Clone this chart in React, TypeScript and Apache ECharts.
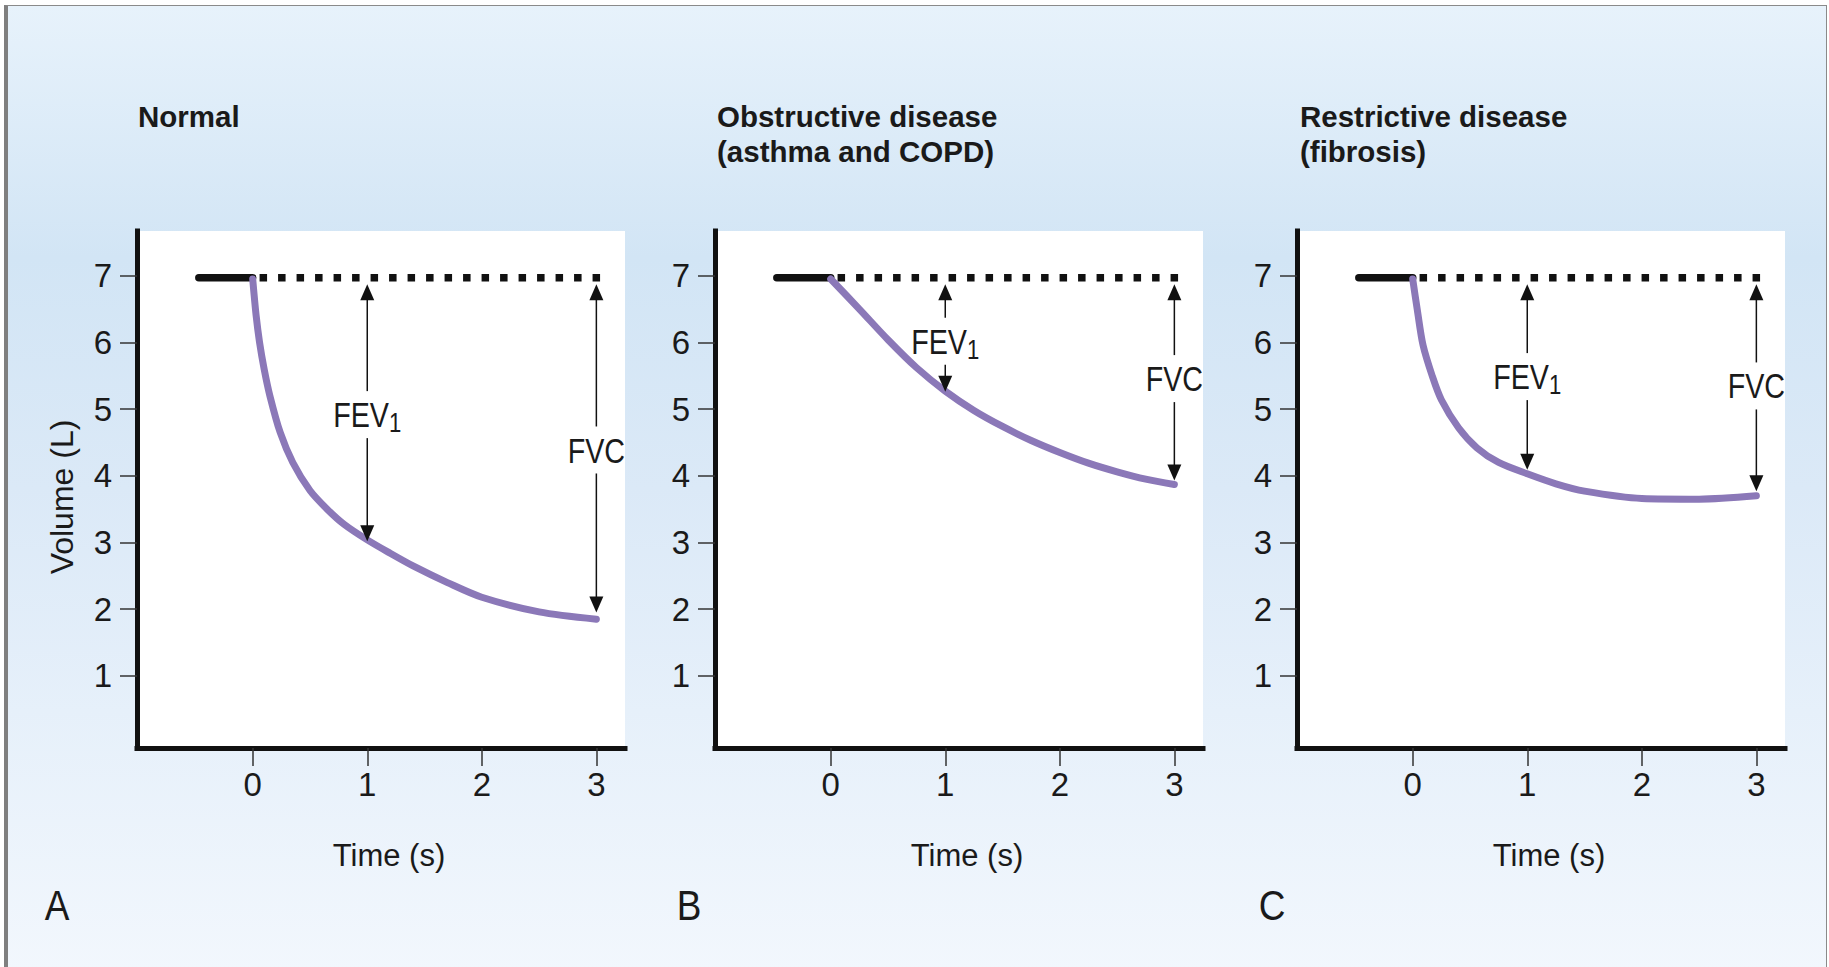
import React, { useEffect, useRef } from 'react';
import * as echarts from 'echarts';

const W = 1829;
const H = 967;

// ---- Text ----
const panelLetters = ['A', 'B', 'C'];
const panelTitles = ['Normal', 'Obstructive disease\n(asthma and COPD)', 'Restrictive disease\n(fibrosis)'];
const xAxisName = 'Time (s)';
const yAxisName = 'Volume (L)';

// ---- Ticks ----
const xTicks = [0, 1, 2, 3];
const yTicks = [1, 2, 3, 4, 5, 6, 7];

// ---- Baseline (before expiration) ----
const startVolume = 6.97;
const holdStartTime = -0.47;
const dottedStartTime = 0.06;
const dottedEndTime = 3.05;

// ---- Curves ----
const normalTime = [0, 0.03, 0.06, 0.1, 0.15, 0.24, 0.35, 0.5, 0.65, 0.8, 1, 1.2, 1.4, 1.7, 2, 2.5, 3];
const normalVolume = [6.95, 6.4, 6.0, 5.6, 5.2, 4.65, 4.2, 3.78, 3.5, 3.27, 3.04, 2.84, 2.65, 2.4, 2.18, 1.96, 1.85];

const obstructiveTime = [0, 0.25, 0.5, 0.75, 1, 1.25, 1.5, 1.75, 2, 2.25, 2.5, 2.75, 3];
const obstructiveVolume = [6.95, 6.5, 6.04, 5.62, 5.27, 4.98, 4.74, 4.53, 4.35, 4.19, 4.06, 3.95, 3.87];

const restrictiveTime = [0, 0.04, 0.09, 0.17, 0.25, 0.4, 0.56, 0.75, 1, 1.25, 1.5, 2, 2.5, 3];
const restrictiveVolume = [6.95, 6.49, 5.96, 5.5, 5.14, 4.72, 4.42, 4.2, 4.03, 3.88, 3.77, 3.66, 3.65, 3.7];

// ---- Arrows (FEV1, FVC) ----
const arrowTimes = [1, 3];
const arrowLabels = ['FEV', 'FVC'];
const arrowSubscripts = ['1', ''];
const arrowTopVolume = 6.87;
const normalArrowEnd = [3.02, 1.95];
const normalArrowLabel = [4.91, 4.38];
const obstructiveArrowEnd = [5.26, 3.93];
const obstructiveArrowLabel = [6.01, 5.45];
const restrictiveArrowEnd = [4.09, 3.77];
const restrictiveArrowLabel = [5.48, 5.34];

const curveTimes = [normalTime, obstructiveTime, restrictiveTime];
const curveVolumes = [normalVolume, obstructiveVolume, restrictiveVolume];
const arrowEnds = [normalArrowEnd, obstructiveArrowEnd, restrictiveArrowEnd];
const arrowLabelVolumes = [normalArrowLabel, obstructiveArrowLabel, restrictiveArrowLabel];

// ---- Layout ----
const gridLefts = [137, 715, 1297];
const gridWidth = 488;
const gridTop = 231;
const gridHeight = 517;
const letterX = [57, 689, 1272];
const titleX = [138, 717, 1300];

const NARROW = '"Liberation Sans Narrow", "Arial Narrow", "Liberation Sans", sans-serif';
const REGULAR = '"Liberation Sans", Arial, sans-serif';
const INK = '#1a1a1a';
const PURPLE = '#8b78b8';

function buildOption() {
  const grid: any[] = [];
  const xAxis: any[] = [];
  const yAxis: any[] = [];
  const series: any[] = [];
  const title: any[] = [];
  const graphic: any[] = [];

  for (let p = 0; p < 3; p++) {
    grid.push({
      left: gridLefts[p],
      top: gridTop,
      width: gridWidth,
      height: gridHeight,
      show: true,
      backgroundColor: '#ffffff',
      borderWidth: 0,
    });
    xAxis.push({
      type: 'value',
      gridIndex: p,
      min: -1.01,
      max: 3.25,
      splitLine: { show: false },
      axisLine: { show: true, onZero: false, lineStyle: { color: '#111', width: 5, cap: 'square' } },
      axisTick: { show: true, length: 18, lineStyle: { color: '#333', width: 1.5 }, customValues: xTicks },
      axisLabel: { customValues: xTicks, margin: 20, fontSize: 33, color: INK, fontFamily: NARROW },
      name: xAxisName,
      nameLocation: 'middle',
      nameGap: 92,
      nameTextStyle: { fontSize: 31, color: INK, fontFamily: NARROW, padding: [0, 0, 0, 16] },
    });
    yAxis.push({
      type: 'value',
      gridIndex: p,
      min: -0.08,
      max: 7.67,
      splitLine: { show: false },
      axisLine: { show: true, onZero: false, lineStyle: { color: '#111', width: 5, cap: 'square' } },
      axisTick: { show: true, length: 17, lineStyle: { color: '#333', width: 1.5 }, customValues: yTicks },
      axisLabel: { customValues: yTicks, margin: 25, fontSize: 33, color: INK, fontFamily: NARROW },
      name: p === 0 ? yAxisName : '',
      nameLocation: 'middle',
      nameRotate: 90,
      nameGap: 59,
      nameTextStyle: { fontSize: 32, color: INK, fontFamily: REGULAR, padding: [0, 15, 0, 0] },
    });

    // solid hold line
    series.push({
      type: 'line',
      xAxisIndex: p,
      yAxisIndex: p,
      symbol: 'none',
      silent: true,
      data: [[holdStartTime, startVolume], [0, startVolume]],
      lineStyle: { color: '#111', width: 7.5, cap: 'round' },
      z: 3,
    });
    // dotted reference line
    series.push({
      type: 'line',
      xAxisIndex: p,
      yAxisIndex: p,
      symbol: 'none',
      silent: true,
      data: [[dottedStartTime, startVolume], [dottedEndTime, startVolume]],
      lineStyle: { color: '#111', width: 7.5, type: [7.5, 11], cap: 'butt' },
      z: 3,
    });
    // expiration curve
    series.push({
      type: 'line',
      xAxisIndex: p,
      yAxisIndex: p,
      symbol: 'none',
      smooth: 0.3,
      silent: true,
      data: curveTimes[p].map((t, i) => [t, curveVolumes[p][i]]),
      lineStyle: { color: PURPLE, width: 7, cap: 'round', join: 'round' },
      z: 4,
    });
    // arrows
    series.push({
      type: 'custom',
      xAxisIndex: p,
      yAxisIndex: p,
      silent: true,
      z: 5,
      data: arrowTimes.map((t, k) => [t, arrowTopVolume, arrowEnds[p][k], arrowLabelVolumes[p][k], k]),
      renderItem: (params: any, api: any) => {
        const t = api.value(0);
        const k = api.value(4);
        const pTop = api.coord([t, api.value(1)]);
        const pBot = api.coord([t, api.value(2)]);
        const pLab = api.coord([t, api.value(3)]);
        const cx = pTop[0];
        const headL = 16;
        const headW = 7;
        const gapTop = 24;
        const gapBot = 23;
        const sub = arrowSubscripts[k];
        const text = sub ? `{m|${arrowLabels[k]}}{s|${sub}}` : `{m|${arrowLabels[k]}}`;
        return {
          type: 'group',
          children: [
            {
              type: 'polygon',
              shape: { points: [[cx, pTop[1]], [cx - headW, pTop[1] + headL], [cx + headW, pTop[1] + headL]] },
              style: { fill: '#111' },
            },
            {
              type: 'polygon',
              shape: { points: [[cx, pBot[1]], [cx - headW, pBot[1] - headL], [cx + headW, pBot[1] - headL]] },
              style: { fill: '#111' },
            },
            {
              type: 'line',
              shape: { x1: cx, y1: pTop[1] + headL - 1, x2: cx, y2: pLab[1] - gapTop },
              style: { stroke: '#111', lineWidth: 1.5 },
            },
            {
              type: 'line',
              shape: { x1: cx, y1: pLab[1] + gapBot, x2: cx, y2: pBot[1] - headL + 1 },
              style: { stroke: '#111', lineWidth: 1.5 },
            },
            {
              type: 'text',
              x: cx,
              y: pLab[1],
              scaleX: 0.82,
              style: {
                text,
                align: 'center',
                verticalAlign: 'middle',
                fill: INK,
                fontFamily: NARROW,
                fontSize: 35,
                rich: {
                  m: { fontSize: 35, lineHeight: 36, fontFamily: NARROW, fill: INK },
                  s: { fontSize: 27, lineHeight: 27, fontFamily: NARROW, fill: INK, padding: [16, 0, 0, 0] },
                },
              },
            },
          ],
        };
      },
    });

    title.push({
      text: panelTitles[p],
      left: titleX[p],
      top: 99,
      padding: 0,
      textStyle: { fontSize: 29.5, fontWeight: 'bold', fontFamily: REGULAR, color: INK, lineHeight: 35 },
    });

    graphic.push({
      type: 'text',
      x: letterX[p],
      y: 905,
      scaleX: 0.86,
      style: {
        text: panelLetters[p],
        fontSize: 43,
        fontFamily: NARROW,
        fill: INK,
        align: 'center',
        verticalAlign: 'middle',
      },
    });
  }

  return { animation: false, grid, xAxis, yAxis, series, title, graphic };
}

export default function App() {
  const ref = useRef<HTMLDivElement>(null);
  useEffect(() => {
    if (!ref.current) return;
    const chart = echarts.init(ref.current, null, { renderer: 'svg', width: W, height: H });
    chart.setOption(buildOption() as any);
    return () => chart.dispose();
  }, []);

  return (
    <div style={{ position: 'fixed', left: 0, top: 0, width: W, height: H, background: '#ffffff', overflow: 'hidden' }}>
      <div
        style={{
          position: 'absolute',
          left: 4,
          top: 5,
          width: W - 4 - 2,
          height: H,
          boxSizing: 'border-box',
          borderLeft: '4.5px solid #7f7f7f',
          borderTop: '1.5px solid #8a8a8a',
          borderRight: '1.5px solid #8a8a8a',
          background:
            'linear-gradient(to bottom, #e7f2fb 0%, #d2e5f5 26%, #dbe9f7 50%, #e6f0fa 73%, #f2f7fd 100%)',
        }}
      />
      <div ref={ref} style={{ position: 'absolute', left: 0, top: 0, width: W, height: H }} />
    </div>
  );
}
